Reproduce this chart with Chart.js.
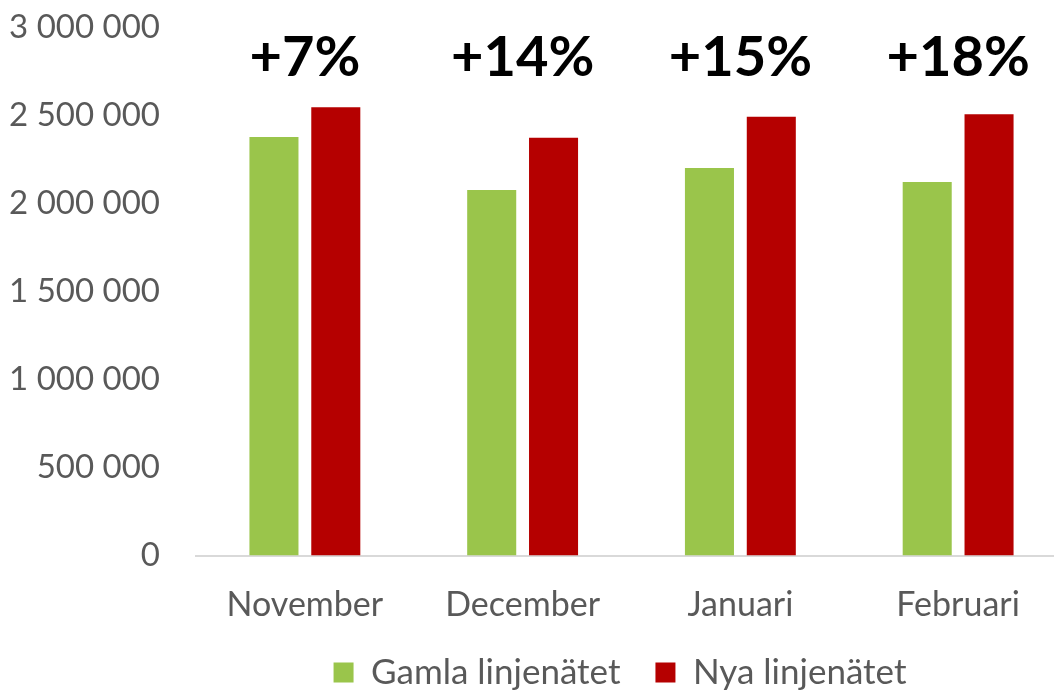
<!DOCTYPE html>
<html>
<head>
<meta charset="utf-8">
<script src="https://cdn.jsdelivr.net/npm/chart.js@4/dist/chart.umd.min.js"></script>
<style>
  html, body { margin: 0; padding: 0; background: #fff; overflow: hidden; width: 1054px; height: 690px; }
  #wrap { position: absolute; left: 0; top: 0; width: 1067px; height: 700px; }
</style>
</head>
<body>
<div id="wrap"><canvas id="c"></canvas></div>
<script>
const categories = ['November', 'December', 'Januari', 'Februari'];
const gamlaValues = [2375000, 2075000, 2200000, 2120000];
const nyaValues = [2545000, 2372000, 2490000, 2505000];
const changeLabels = ['+7%', '+14%', '+15%', '+18%'];
const seriesNames = ['Gamla linjenätet', 'Nya linjenätet'];
const yTicks = [0, 500000, 1000000, 1500000, 2000000, 2500000, 3000000];

const GREEN = '#9AC54B';
const RED = '#B50000';
const GRAY = '#595959';
const FONT = 'Lato';

const fmt = v => String(v).replace(/\B(?=(\d{3})+(?!\d))/g, ' ');

const pctPlugin = {
  id: 'pctLabels',
  afterDatasetsDraw(chart) {
    const { ctx, chartArea, scales } = chart;
    ctx.save();
    ctx.font = 'bold 56px ' + FONT;
    ctx.fillStyle = '#000';
    ctx.textAlign = 'center';
    ctx.textBaseline = 'alphabetic';
    changeLabels.forEach((t, i) => {
      ctx.fillText(t, scales.x.getPixelForValue(i), chartArea.top + 48.5);
    });
    ctx.restore();
  }
};

// nudge the legend a little to the left, as in the original
const legendShift = {
  id: 'legendShift',
  afterLayout(chart) {
    if (chart.legend) { chart.legend.left -= 11.5; chart.legend.right -= 11.5; }
  }
};

new Chart(document.getElementById('c'), {
  type: 'bar',
  data: {
    labels: categories,
    datasets: [
      { label: seriesNames[0], data: gamlaValues, backgroundColor: GREEN, borderWidth: 0 },
      { label: seriesNames[1], data: nyaValues, backgroundColor: RED, borderWidth: 0 }
    ]
  },
  options: {
    responsive: true,
    maintainAspectRatio: false,
    animation: false,
    devicePixelRatio: 1,
    layout: { padding: { left: 0, right: 0, top: 27, bottom: 0 } },
    datasets: { bar: { categoryPercentage: 0.568, barPercentage: 0.793 } },
    scales: {
      x: {
        grid: { display: false, drawTicks: false },
        border: { display: true, color: '#D9D9D9', width: 2 },
        ticks: { color: GRAY, font: { family: FONT, size: 34 }, padding: 29, maxRotation: 0, autoSkip: false },
        afterFit(s) { s.height = 64.5; s.paddingLeft = 0; s.paddingRight = 0; }
      },
      y: {
        min: 0,
        max: 3000000,
        grid: { display: false, drawTicks: false },
        border: { display: false },
        afterBuildTicks(s) { s.ticks = yTicks.map(v => ({ value: v })); },
        ticks: { color: GRAY, font: { family: FONT, size: 33 }, padding: 36, callback: v => fmt(v) },
        afterFit(s) { s.width = 196; s.paddingTop = 0; s.paddingBottom = 0; }
      }
    },
    plugins: {
      legend: {
        position: 'bottom',
        fullSize: false,
        labels: { color: GRAY, font: { family: FONT, size: 35 }, boxWidth: 20, boxHeight: 20, padding: 35 }
      },
      tooltip: { enabled: false },
      title: { display: false }
    }
  },
  plugins: [pctPlugin, legendShift]
});
</script>
</body>
</html>
